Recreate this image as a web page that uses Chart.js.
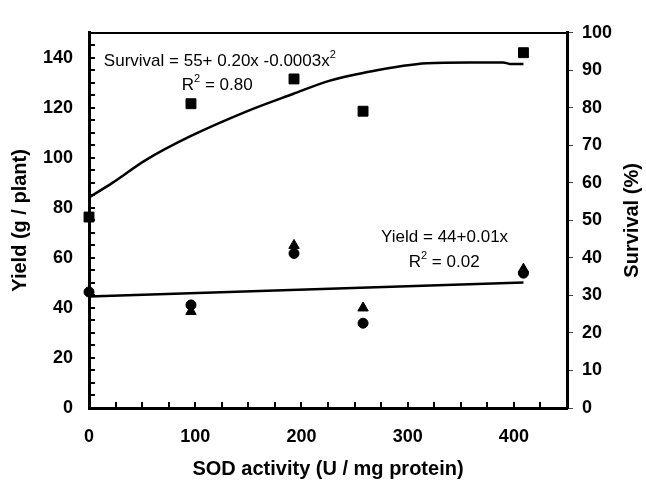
<!DOCTYPE html>
<html>
<head>
<meta charset="utf-8">
<script src="https://cdn.jsdelivr.net/npm/chart.js@4.4.1/dist/chart.umd.min.js"></script>
<style>
html,body{margin:0;padding:0;background:#fff;}
#wrap{width:646px;height:482px;}
</style>
</head>
<body>
<div id="wrap"><canvas id="c" width="646" height="482"></canvas></div>
<script>
// ---- data ----
const sodActivity    = [0, 96, 193, 258, 409];
const survivalPct    = [50.9, 81.1, 87.7, 79.1, 94.7];
const yieldCircles   = [46.4, 41.2, 61.8, 33.9, 53.9];
const yieldTriangles = [null, 38.6, 65.0, 40.0, 55.5];
const survivalFitX   = [0, 22, 53, 96, 148, 192, 226, 258, 318, 358, 390, 396, 409];
const survivalFitY   = [56.1, 60, 66, 72.5, 79, 83.7, 87.2, 89.3, 91.9, 92.1, 92.1, 91.7, 91.7];
const yieldFitX      = [0, 409];
const yieldFitY      = [44.6, 50.2];
const xTickLabels    = [0, 100, 200, 300, 400];
const yTickLabels    = [0, 20, 40, 60, 80, 100, 120, 140];
const y2TickLabels   = [0, 10, 20, 30, 40, 50, 60, 70, 80, 90, 100];

const pts = (xs, ys) => xs.map((x, i) => ({x: x, y: ys[i]})).filter(p => p.y !== null);

const FONT = '"Liberation Sans", Arial, sans-serif';
const tickFont = {family: FONT, size: 18, weight: 'bold'};
const titleFont = {family: FONT, size: 20, weight: 'bold'};

const annotations = [
  {x: 14, y: 138.6, parts: [{t: 'Survival = 55+ 0.20x -0.0003x'}, {t: '2', sup: true}]},
  {x: 87.4, y: 129.1, parts: [{t: 'R'}, {t: '2', sup: true}, {t: ' = 0.80'}]},
  {x: 275, y: 68.3, parts: [{t: 'Yield = 44+0.01x'}]},
  {x: 301, y: 58.2, parts: [{t: 'R'}, {t: '2', sup: true}, {t: ' = 0.02'}]}
];

const textPlugin = {
  id: 'texts',
  afterDraw(chart) {
    const ctx = chart.ctx;
    const xs = chart.scales.x, ys = chart.scales.y;
    ctx.save();
    ctx.fillStyle = '#000';
    ctx.textBaseline = 'middle';
    ctx.textAlign = 'left';
    for (const a of annotations) {
      let cx = xs.getPixelForValue(a.x);
      const cy = ys.getPixelForValue(a.y);
      for (const p of a.parts) {
        ctx.font = (p.sup ? '11px ' : '17px ') + FONT;
        ctx.fillText(p.t, cx, p.sup ? cy - 6 : cy);
        cx += ctx.measureText(p.t).width;
      }
    }
    // right axis title, reading bottom to top
    const a = chart.chartArea;
    ctx.font = 'bold 20px ' + FONT;
    ctx.textAlign = 'center';
    ctx.translate(chart.scales.y2.right - 14, (a.top + a.bottom) / 2);
    ctx.rotate(-Math.PI / 2);
    ctx.fillText('Survival (%)', 0, 0);
    ctx.restore();
  }
};

new Chart(document.getElementById('c'), {
  type: 'scatter',
  data: {
    datasets: [
      {label: 'Survival', data: pts(sodActivity, survivalPct), yAxisID: 'y2',
       pointStyle: 'rect', pointRadius: 7, backgroundColor: '#000', borderColor: '#000', borderWidth: 1, clip: false},
      {label: 'Yield 1', data: pts(sodActivity, yieldCircles), yAxisID: 'y',
       pointStyle: 'circle', pointRadius: 5, backgroundColor: '#000', borderColor: '#000', borderWidth: 1, clip: false},
      {label: 'Yield 2', data: pts(sodActivity, yieldTriangles), yAxisID: 'y',
       pointStyle: 'triangle', pointRadius: 6, backgroundColor: '#000', borderColor: '#000', borderWidth: 1, clip: false},
      {label: 'Survival fit', data: pts(survivalFitX, survivalFitY), yAxisID: 'y2',
       showLine: true, pointRadius: 0, borderColor: '#000', borderWidth: 2.5, cubicInterpolationMode: 'monotone', clip: false},
      {label: 'Yield fit', data: pts(yieldFitX, yieldFitY), yAxisID: 'y',
       showLine: true, pointRadius: 0, borderColor: '#000', borderWidth: 2.5, clip: false}
    ]
  },
  options: {
    responsive: false,
    animation: false,
    devicePixelRatio: 1,
    layout: {padding: {top: 21, left: 0, right: 0, bottom: 0}},
    plugins: {legend: {display: false}, tooltip: {enabled: false}},
    scales: {
      x: {
        type: 'linear', position: 'bottom', min: 0, max: 450,
        ticks: {stepSize: 25, autoSkip: false, maxRotation: 0, color: '#000', font: tickFont, padding: 24,
                callback: v => xTickLabels.includes(v) ? String(v) : ''},
        grid: {drawOnChartArea: false, drawTicks: true, tickLength: -6, color: '#000', lineWidth: 2},
        border: {display: true, color: '#000', width: 3},
        title: {display: true, text: 'SOD activity (U / mg protein)', color: '#000', font: titleFont, padding: {top: 0, bottom: 1}},
        afterFit: s => { s.height = 74; }
      },
      xTop: {
        type: 'linear', position: 'top', min: 0, max: 450,
        ticks: {display: false},
        grid: {display: false},
        border: {display: true, color: '#000', width: 2},
        afterFit: s => { s.height = 0; }
      },
      y: {
        type: 'linear', position: 'left', min: 0, max: 150,
        ticks: {stepSize: 5, autoSkip: false, color: '#000', font: tickFont, padding: 22,
                callback: v => yTickLabels.includes(v) ? String(v) : ''},
        grid: {drawOnChartArea: false, drawTicks: true, tickLength: -6, color: '#000', lineWidth: 2},
        border: {display: true, color: '#000', width: 3},
        title: {display: true, text: 'Yield (g / plant)', color: '#000', font: titleFont, padding: {top: 8, bottom: 0}},
        afterFit: s => { s.width = 89; }
      },
      y2: {
        type: 'linear', position: 'right', min: 0, max: 100,
        ticks: {stepSize: 10, autoSkip: false, color: '#000', font: tickFont, padding: 9,
                callback: v => y2TickLabels.includes(v) ? String(v) : ''},
        grid: {drawOnChartArea: false, drawTicks: true, tickLength: 6, color: '#444', lineWidth: 1},
        border: {display: true, color: '#000', width: 3},
        title: {display: false},
        afterFit: s => { s.width = 79; }
      }
    }
  },
  plugins: [textPlugin]
});
</script>
</body>
</html>
